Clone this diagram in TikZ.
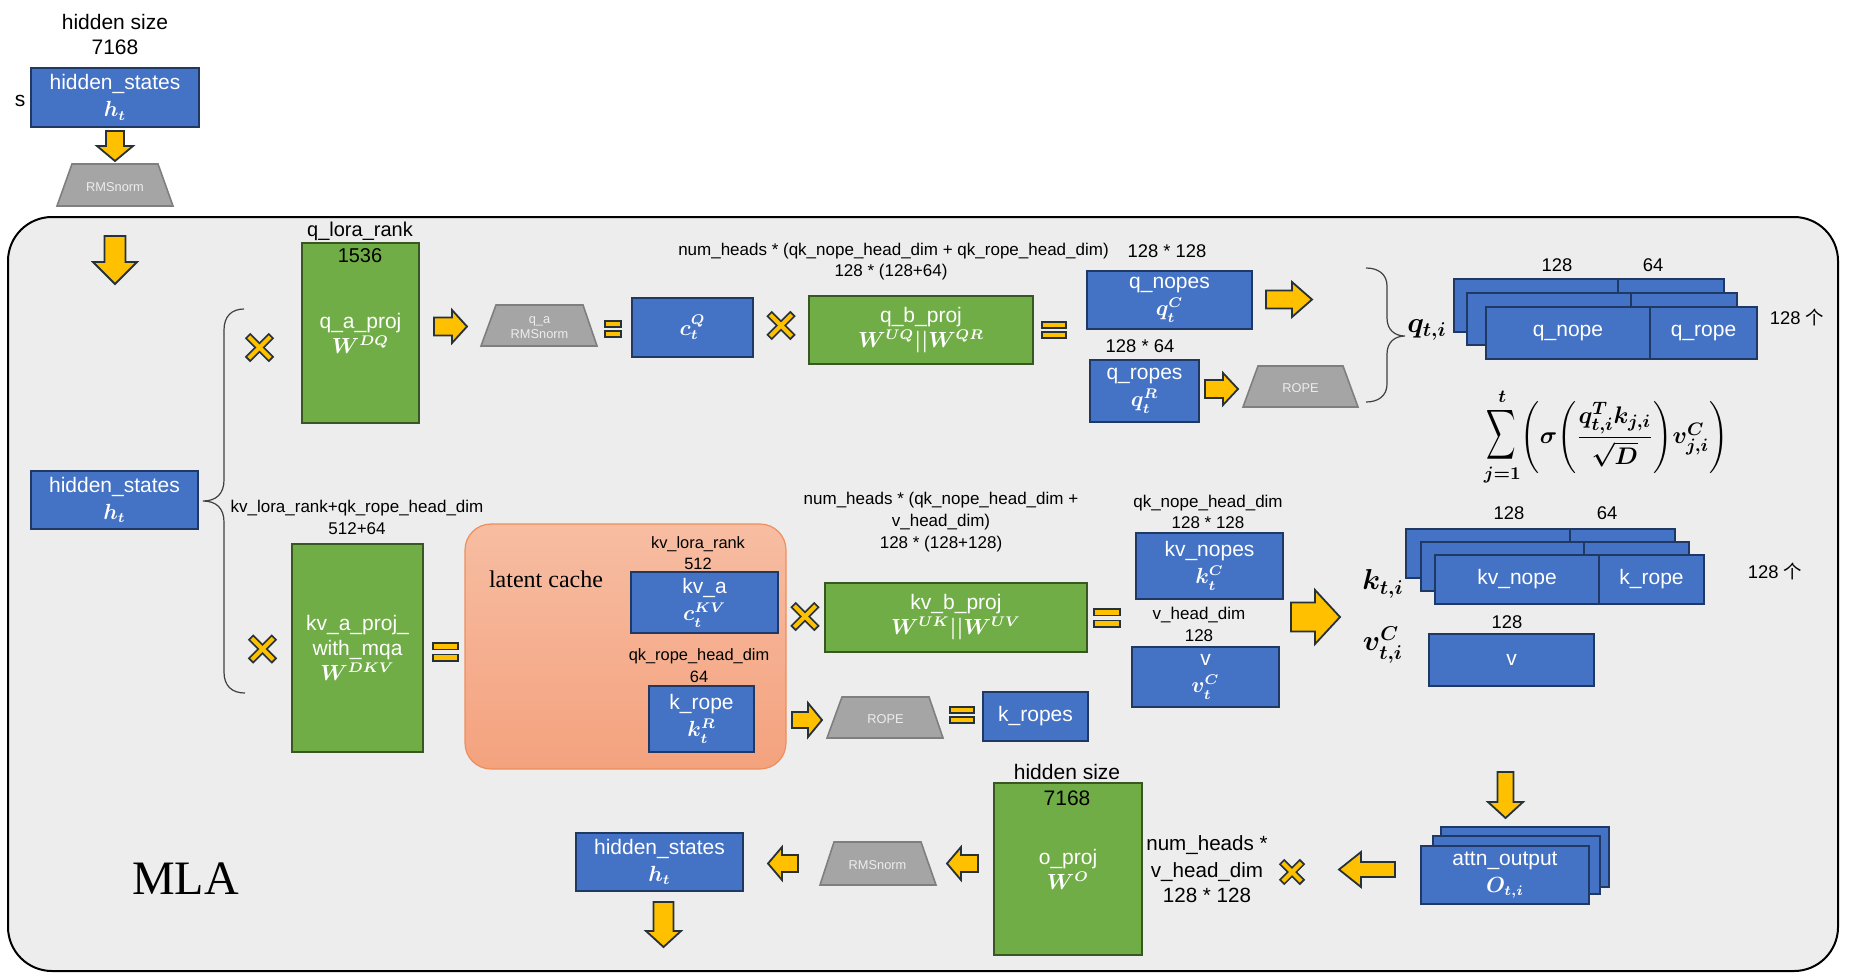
\documentclass[tikz,border=0pt]{standalone}
\usepackage{amsmath}
\usepackage{graphicx}
\usepackage[no-math]{fontspec}
\setmainfont{Liberation Sans}
\newfontfamily\seriffont{Liberation Serif}
\newfontfamily\cjkfont{Noto Sans CJK SC}
\definecolor{boxblue}{HTML}{4472C4}
\definecolor{blueline}{HTML}{203864}
\definecolor{boxgreen}{HTML}{70AD47}
\definecolor{greenline}{HTML}{385723}
\definecolor{ayellow}{HTML}{FFC000}
\definecolor{outl}{HTML}{263238}
\definecolor{trapfill}{HTML}{A5A5A5}
\definecolor{trapline}{HTML}{7F7F7F}
\definecolor{framefill}{HTML}{EDEDED}
\definecolor{lctop}{HTML}{F7BDA2}
\definecolor{lcbot}{HTML}{F4A27E}
\definecolor{lcline}{HTML}{EE8E5C}
\newcommand\fbig{\fontsize{10.5}{13.5}\selectfont}
\newcommand\fmid{\fontsize{9.2}{11}\selectfont}
\newcommand\fsm{\fontsize{8.5}{10.5}\selectfont}
\newcommand\bx[7]{%
  \pgfmathsetmacro\bw{(#4-#2)*0.5}\pgfmathsetmacro\bh{(#5-#3)*0.5}%
  \node[#6, minimum width=\bw pt, minimum height=\bh pt] (#1) at ({(#2+#4)/2},{(#3+#5)/2}) {#7};}
\newcommand\harr[6]{\draw[yarr] (#1,#3-#4) -- ({#2-(#6)},#3-#4) -- ({#2-(#6)},#3-#5) -- (#2,#3) -- ({#2-(#6)},#3+#5) -- ({#2-(#6)},#3+#4) -- (#1,#3+#4) -- cycle;}
\newcommand\varr[6]{\draw[yarr] (#1-#4,#2) -- (#1-#4,{#3-(#6)}) -- (#1-#5,{#3-(#6)}) -- (#1,#3) -- (#1+#5,{#3-(#6)}) -- (#1+#4,{#3-(#6)}) -- (#1+#4,#2) -- cycle;}
\newcommand\xm[3]{%
  \draw[xout] (#1-#3,#2-#3)--(#1+#3,#2+#3);
  \draw[xout] (#1-#3,#2+#3)--(#1+#3,#2-#3);
  \draw[xin] (#1-#3,#2-#3)--(#1+#3,#2+#3);
  \draw[xin] (#1-#3,#2+#3)--(#1+#3,#2-#3);}
\newcommand\eqm[4]{%
  \pgfmathsetmacro\eb{(#4-#3)*0.36}%
  \draw[yarr] (#1,#3) rectangle (#2,#3+\eb);
  \draw[yarr] (#1,#4-\eb) rectangle (#2,#4);}
\newcommand\trap[8]{%
  \draw[trapz] (#2,#4) -- (#3,#4) -- (#6,#7) -- (#5,#7) -- cycle;
  \node[traptext] (#1) at ({(#2+#3)/2},{(#4+#7)/2+2}) {#8};}
\begin{document}
\begin{tikzpicture}[x=0.5pt,y=-0.5pt,
  bbox/.style={draw=blueline, fill=boxblue, line width=1pt, text=white, align=center, inner sep=0pt, font=\fbig\boldmath},
  gbox/.style={draw=greenline, fill=boxgreen, line width=1pt, text=white, align=center, inner sep=0pt, font=\fontsize{10.5}{12.5}\selectfont\boldmath},
  lcbox/.style={draw=lcline, line width=0.6pt, top color=lctop, bottom color=lcbot, rounded corners=13pt, inner sep=0pt},
  yarr/.style={fill=ayellow, draw=outl, line width=0.9pt, line join=miter},
  xout/.style={draw=outl, line width=3.8pt},
  xin/.style={draw=ayellow, line width=2.1pt, shorten <=0.9pt, shorten >=0.9pt},
  trapz/.style={fill=trapfill, draw=trapline, line width=0.8pt},
  traptext/.style={text=white!93!black, font=\fontsize{6.4}{7.6}\selectfont, align=center, inner sep=0pt},
  lab/.style={anchor=base, inner sep=0pt, text=black},
  brace/.style={draw=black!75, line width=0.6pt}
  ]
\useasboundingbox (0,0) rectangle (1856,976);
\fill[white] (0,0) rectangle (1856,976);
% frame
\draw[fill=framefill, draw=black, line width=1pt, rounded corners=22pt] (8,217) rectangle (1838,971);
% top
\node[lab, font=\fbig] (hsz1) at (115,29.5) {hidden size};
\node[lab, font=\fbig] (hsn1) at (115,54.5) {7168};
\node[lab, font=\fbig] (slab) at (20,106.5) {s};
\bx{hs1}{31}{68}{199}{127}{bbox}{hidden\_states\\$h_t$}
\varr{115}{131}{161}{9}{18}{15}
\trap{rms1}{72}{158}{164}{57}{173}{206}{RMSnorm}
\varr{115}{236}{284}{10.5}{22}{22}
% left input
\bx{hs2}{31}{471}{198}{529}{bbox}{hidden\_states\\$h_t$}
\draw[brace] (244,309) .. controls (232,309) and (224,316) .. (224,330) -- (224,480) .. controls (224,494) and (216,501) .. (203,501) .. controls (216,501) and (224,508) .. (224,522) -- (224,672) .. controls (224,686) and (232,693) .. (245,693);
% q path
\xm{259.5}{347.5}{12}
\node[lab, font=\fontsize{10}{12}\selectfont] (qlr) at (360,236.5) {q\_lora\_rank};
\bx{qa}{302}{243}{419}{423}{gbox}{q\_a\_proj\\$W^{DQ}$}
\node[lab, font=\fontsize{10}{12}\selectfont] (qlrn) at (360,262.5) {1536};
\harr{434}{467}{326.5}{9}{16.5}{15}
\trap{rms2}{496}{583}{305}{481}{597}{346}{q\_a\\RMSnorm}
\eqm{605}{621}{321}{337}
\bx{cq}{632}{298}{753}{357}{bbox}{$c_t^Q$}
\xm{781}{325.5}{12}
\node[lab, font=\fsm] (nh1) at (893.5,255) {num\_heads * (qk\_nope\_head\_dim + qk\_rope\_head\_dim)};
\node[lab, font=\fsm] (nh1b) at (891,276) {128 * (128+64)};
\bx{qb}{809}{296}{1033}{364}{gbox}{q\_b\_proj\\$W^{UQ}||W^{QR}$}
\eqm{1042}{1066}{322}{338}
\node[lab, font=\fmid] (qn128) at (1167,257.5) {128 * 128};
\bx{qn}{1087}{271}{1252}{329}{bbox}{q\_nopes\\$q_t^C$}
\node[lab, font=\fmid] (qr64) at (1140,352.5) {128 * 64};
\bx{qr}{1090}{360}{1199}{422}{bbox}{q\_ropes\\$q_t^R$}
\harr{1266}{1312}{299.5}{9}{17.5}{20}
\harr{1205}{1238}{389}{9}{16}{15}
\trap{rope1}{1258}{1343}{366}{1243}{1358}{407}{ROPE}
\draw[brace] (1366,268) .. controls (1378,268) and (1387,274) .. (1387,286) -- (1387,318) .. controls (1387,330) and (1395,336) .. (1405,336) .. controls (1395,336) and (1387,342) .. (1387,354) -- (1387,384) .. controls (1387,396) and (1378,402) .. (1366,402);
\node[font=\fontsize{14}{16}\selectfont\boldmath, inner sep=0pt] (qti) at (1427,330) {$q_{t,i}$};
% q stack
\bx{qsb1}{1454}{279}{1618}{332}{bbox}{}
\bx{qsb2}{1618}{279}{1724}{332}{bbox}{}
\bx{qsm1}{1467}{293}{1631}{345}{bbox}{}
\bx{qsm2}{1631}{293}{1737}{345}{bbox}{}
\bx{qnope}{1486}{307}{1650}{359}{bbox}{q\_nope}
\bx{qrope}{1650}{307}{1757}{359}{bbox}{q\_rope}
\node[lab, font=\fmid] (qs128) at (1557,271.5) {128};
\node[lab, font=\fmid] (qs64) at (1653,271.5) {64};
\node[lab, font=\fmid] (qsn) at (1797,324.5) {128 {\cjkfont 个}};
% formula
\node[font=\fontsize{13}{15}\selectfont\boldmath, inner sep=0pt] (formula) at (1606,437) {$\mathop{\scalebox{0.85}[1.45]{$\displaystyle\sum$}}\limits_{j=1}^{t}\Biggl(\sigma\Biggl(\dfrac{q_{t,i}^{T}k_{j,i}}{\sqrt{D}}\Biggr)v_{j,i}^{C}\Biggr)$};
% kv path
\xm{262.5}{649}{12}
\node[lab, font=\fsm] (kvl) at (357,512) {kv\_lora\_rank+qk\_rope\_head\_dim};
\node[lab, font=\fsm] (kvln) at (357,534) {512+64};
\bx{kvap}{292}{544}{423}{752}{gbox}{kv\_a\_proj\_\\with\_mqa\\$W^{DKV}$}
\eqm{433}{458}{643}{661}
\bx{lc}{465}{524}{786}{769}{lcbox}{}
\node[lab, font=\seriffont\fontsize{12}{14}\selectfont] (lct) at (546,587) {latent cache};
\node[lab, font=\fontsize{8.2}{10}\selectfont] (kvlr) at (698,548) {kv\_lora\_rank};
\node[lab, font=\fontsize{8.2}{10}\selectfont] (kvlrn) at (698,569) {512};
\bx{kva}{631}{572}{778}{633}{bbox}{kv\_a\\$c_t^{KV}$}
\node[lab, font=\fontsize{8.2}{10}\selectfont] (qkr) at (699,660) {qk\_rope\_head\_dim};
\node[lab, font=\fontsize{8.2}{10}\selectfont] (qkrn) at (699,682) {64};
\bx{kr}{649}{686}{754}{752}{bbox}{k\_rope\\$k_t^R$}
\xm{805}{616.5}{12}
\node[lab, font=\fsm] (nh2) at (941,504) {num\_heads * (qk\_nope\_head\_dim +};
\node[lab, font=\fsm] (nh2b) at (941,526) {v\_head\_dim)};
\node[lab, font=\fsm] (nh2c) at (941,548) {128 * (128+128)};
\bx{kvb}{825}{583}{1087}{652}{gbox}{kv\_b\_proj\\$W^{UK}||W^{UV}$}
\eqm{1094}{1120}{609}{627}
\node[lab, font=\fsm] (qkn) at (1208,507) {qk\_nope\_head\_dim};
\node[lab, font=\fsm] (qknb) at (1208,528) {128 * 128};
\bx{kvn}{1136}{533}{1283}{599}{bbox}{kv\_nopes\\$k_t^C$}
\node[lab, font=\fsm] (vhd) at (1199,619) {v\_head\_dim};
\node[lab, font=\fsm] (vhdn) at (1199,641) {128};
\bx{vv}{1132}{647}{1279}{707}{bbox}{v\\$v_t^C$}
\harr{792}{822}{720}{8}{17}{14}
\trap{rope2}{842}{929}{697}{827}{943}{738}{ROPE}
\eqm{950}{974}{707}{723}
\bx{krs}{983}{692}{1088}{741}{bbox}{k\_ropes}
\harr{1291}{1340}{617}{14.5}{27}{25}
\node[font=\fontsize{14}{16}\selectfont\boldmath, inner sep=0pt] (kti) at (1383,584) {$k_{t,i}$};
\node[font=\fontsize{14}{16}\selectfont\boldmath, inner sep=0pt] (vti) at (1383,645) {$v_{t,i}^{C}$};
% k stack
\bx{ksb1}{1406}{529}{1570}{578}{bbox}{}
\bx{ksb2}{1570}{529}{1675}{578}{bbox}{}
\bx{ksm1}{1421}{542}{1584}{591}{bbox}{}
\bx{ksm2}{1584}{542}{1689}{591}{bbox}{}
\bx{kvnope}{1435}{555}{1599}{604}{bbox}{kv\_nope}
\bx{krope}{1599}{555}{1704}{604}{bbox}{k\_rope}
\node[lab, font=\fmid] (ks128) at (1509,519.5) {128};
\node[lab, font=\fmid] (ks64) at (1607,519.5) {64};
\node[lab, font=\fmid] (ksn) at (1775,578.5) {128 {\cjkfont 个}};
\node[lab, font=\fmid] (vs128) at (1507,628.5) {128};
\bx{vr}{1429}{634}{1594}{686}{bbox}{v}
% output path
\varr{1505.5}{772}{818}{8}{17.5}{16}
\bx{ab}{1441}{827}{1609}{887}{bbox}{}
\bx{am}{1433}{836}{1600}{894}{bbox}{}
\bx{ao}{1421}{846}{1589}{904}{bbox}{attn\_output\\$O_{t,i}$}
\harr{1395}{1339}{869.5}{7.5}{17.5}{-22}
\xm{1292}{872}{10.5}
\node[lab, font=\fontsize{10.3}{12}\selectfont] (nh3) at (1207,850.5) {num\_heads *};
\node[lab, font=\fontsize{10.3}{12}\selectfont] (nh3b) at (1207,877.5) {v\_head\_dim};
\node[lab, font=\fontsize{10.3}{12}\selectfont] (nh3c) at (1207,902.5) {128 * 128};
\node[lab, font=\fbig] (hsz2) at (1067,779.5) {hidden size};
\bx{op}{994}{783}{1142}{955}{gbox}{o\_proj\\$W^{O}$}
\node[lab, font=\fbig] (hsn2) at (1067,805.5) {7168};
\harr{978}{947}{863.5}{8.5}{16.5}{-14}
\trap{rms3}{834}{921}{842}{820}{936}{885}{RMSnorm}
\harr{798}{768}{863.5}{8.5}{16.5}{-14}
\bx{hs3}{576}{833}{743}{891}{bbox}{hidden\_states\\$h_t$}
\varr{663.5}{902}{947}{10}{17.5}{16}
\node[lab, font=\seriffont\fontsize{24}{28}\selectfont] (mla) at (185.5,894) {MLA};
\end{tikzpicture}
\end{document}
